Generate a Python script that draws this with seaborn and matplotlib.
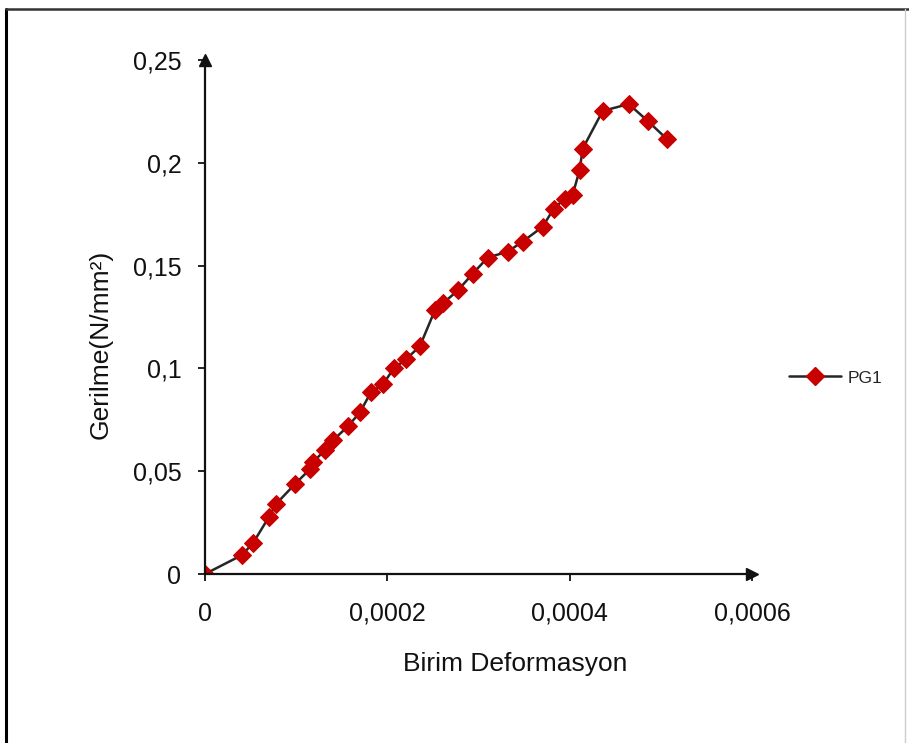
import matplotlib
matplotlib.use("Agg")
import matplotlib.pyplot as plt
from matplotlib.lines import Line2D
import numpy as np
import pandas as pd
import seaborn as sns

# values
strain = [0, 4.05e-5, 5.26e-5, 7.01e-5, 7.78e-5, 9.86e-5, 1.151e-4, 1.184e-4,
          1.315e-4, 1.403e-4, 1.567e-4, 1.699e-4, 1.819e-4, 1.951e-4, 2.071e-4,
          2.203e-4, 2.356e-4, 2.521e-4, 2.608e-4, 2.773e-4, 2.937e-4, 3.101e-4,
          3.321e-4, 3.485e-4, 3.704e-4, 3.825e-4, 3.945e-4, 4.033e-4, 4.110e-4,
          4.142e-4, 4.362e-4, 4.647e-4, 4.855e-4, 5.063e-4]
stress = [0, 0.0092, 0.0150, 0.0277, 0.0340, 0.0437, 0.0510, 0.0544,
          0.0602, 0.0650, 0.0718, 0.0786, 0.0883, 0.0922, 0.1000,
          0.1044, 0.1107, 0.1282, 0.1316, 0.1379, 0.1461, 0.1539,
          0.1568, 0.1617, 0.1689, 0.1777, 0.1825, 0.1845, 0.1966,
          0.2068, 0.2252, 0.2286, 0.2204, 0.2117]
series = "PG1"

xticks = [0, 0.0002, 0.0004, 0.0006]
xtick_labels = ["0", "0,0002", "0,0004", "0,0006"]
yticks = [0, 0.05, 0.1, 0.15, 0.2, 0.25]
ytick_labels = ["0", "0,05", "0,1", "0,15", "0,2", "0,25"]

df = pd.DataFrame({"strain": strain, "stress": stress, "seri": series})

sns.set_style("white")
plt.rcParams["font.family"] = ["Liberation Sans", "DejaVu Sans"]

fig = plt.figure(figsize=(9.09, 7.43), dpi=100)
ax = fig.add_axes([205 / 909, 1 - 574 / 743, 547 / 909, 514 / 743])

sns.lineplot(data=df, x="strain", y="stress", hue="seri", sort=False,
             estimator=None, palette=["#262626"], linewidth=1.8,
             marker="D", markersize=9, markerfacecolor="#c80000",
             markeredgecolor="#c80000", ax=ax, legend=False)

ax.set_xlim(0, 0.0006)
ax.set_ylim(0, 0.25)
ax.set_xticks(xticks)
ax.set_xticklabels(xtick_labels)
ax.set_yticks(yticks)
ax.set_yticklabels(ytick_labels)
ax.tick_params(axis="both", labelsize=18, colors="#111111", length=5,
               width=1.3, direction="out")
ax.tick_params(axis="x", pad=15)
ax.tick_params(axis="y", pad=12)
ax.tick_params(axis="x", which="both", bottom=True)
ax.tick_params(axis="y", which="both", left=True)

for s in ["top", "right"]:
    ax.spines[s].set_visible(False)
for s in ["left", "bottom"]:
    ax.spines[s].set_linewidth(1.6)
    ax.spines[s].set_color("#111111")
ax.plot(1, 0, ">", color="#111111", markersize=9,
        transform=ax.get_yaxis_transform(), clip_on=False)
ax.plot(0, 1, "^", color="#111111", markersize=9,
        transform=ax.get_xaxis_transform(), clip_on=False)

ax.set_xlabel("Birim Deformasyon", fontsize=19, color="#111111")
ax.set_ylabel("Gerilme(N/mm²)", fontsize=19, color="#111111")
ax.xaxis.set_label_coords(0.567, -0.152)
ax.yaxis.set_label_coords(-0.168, 0.446)

handle = Line2D([], [], color="#262626", linewidth=1.8, marker="D",
                markersize=9, markerfacecolor="#c80000",
                markeredgecolor="#c80000")
fig.legend([handle], [series], loc="center left",
           bbox_to_anchor=(773 / 909, 1 - 378 / 743), frameon=False,
           fontsize=12.5, handlelength=3.0, handletextpad=0.4)

# picture frame
fig.add_artist(Line2D([6 / 909, 6 / 909], [0, 1 - 9 / 743], color="black",
                      linewidth=2.2, transform=fig.transFigure))
fig.add_artist(Line2D([6 / 909, 1], [1 - 9 / 743, 1 - 9 / 743], color="#333333",
                      linewidth=1.8, transform=fig.transFigure))
fig.add_artist(Line2D([905 / 909, 905 / 909], [0, 1 - 9 / 743], color="#cccccc",
                      linewidth=1.0, transform=fig.transFigure))

fig.savefig("out.png", dpi=100)
